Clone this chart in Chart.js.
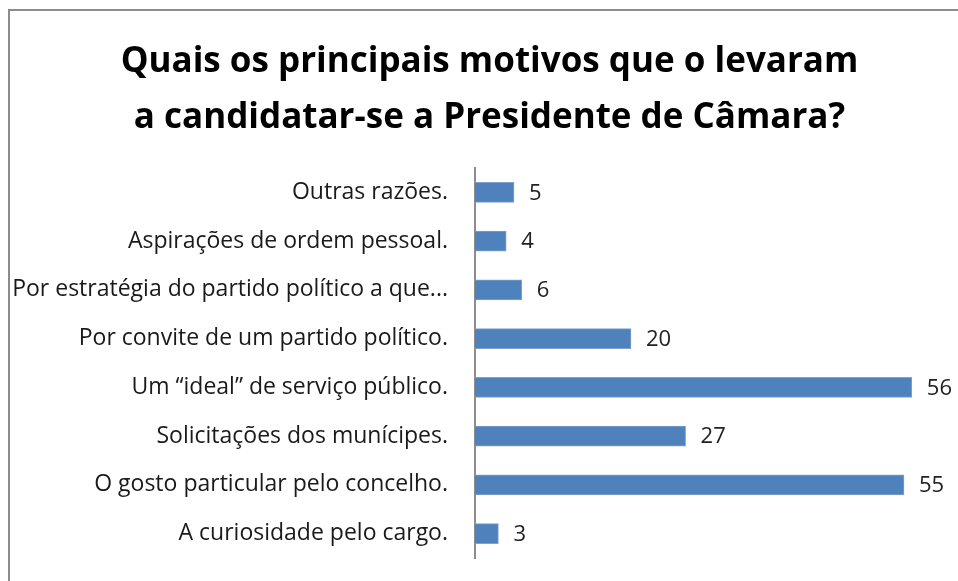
<!DOCTYPE html>
<html>
<head>
<meta charset="utf-8">
<script src="https://cdn.jsdelivr.net/npm/chart.js@4"></script>
<style>
  body { margin: 0; background: #fff; }
  #wrap { position: relative; width: 958px; height: 581px; }
  #frame { position: absolute; left: 8px; top: 9px; width: 960px; height: 600px;
           border-left: 2px solid #8c8c8c; border-top: 2px solid #8c8c8c; pointer-events: none; }
</style>
</head>
<body>
<div id="wrap">
  <canvas id="motivosChart" width="958" height="581"></canvas>
  <div id="frame"></div>
</div>
<script>
// Categorias (de cima para baixo) e respetivos valores
const categorias = [
    "Outras razões.",
    "Aspirações de ordem pessoal.",
    "Por estratégia do partido político a que...",
    "Por convite de um partido político.",
    "Um “ideal” de serviço público.",
    "Solicitações dos munícipes.",
    "O gosto particular pelo concelho.",
    "A curiosidade pelo cargo."
];
const valores = [5, 4, 6, 20, 56, 27, 55, 3];
const titulo = ["Quais os principais motivos que o levaram", "a candidatar-se a Presidente de Câmara?"];

// Plugin simples para escrever o valor à direita de cada barra
const rotulosValores = {
    id: 'rotulosValores',
    afterLayout(chart) {
        // deixa os rótulos compridos passarem para a margem esquerda (sem corte)
        chart.scales.y.left = 0;
    },
    afterDatasetsDraw(chart) {
        const ctx = chart.ctx;
        const meta = chart.getDatasetMeta(0);
        ctx.save();
        ctx.font = '22px "Open Sans"';
        ctx.fillStyle = '#222';
        ctx.textAlign = 'left';
        ctx.textBaseline = 'middle';
        meta.data.forEach(function(bar, i) {
            ctx.fillText(String(valores[i]), bar.x + 15, bar.y + 1);
        });
        ctx.restore();
    }
};

let ctx = document.getElementById('motivosChart').getContext('2d');
let chart = new Chart(ctx, {
    type: 'bar',
    data: {
        labels: categorias,
        datasets: [{
            data: valores,
            backgroundColor: '#4F81BD',
            borderColor: '#7FA2CF',
            borderWidth: 1,
            barThickness: 20
        }]
    },
    options: {
        indexAxis: 'y',
        responsive: false,
        animation: false,
        layout: { padding: { left: 36, right: 15, top: 0, bottom: 23 } },
        plugins: {
            legend: { display: false },
            tooltip: { enabled: false },
            title: {
                display: true,
                text: titulo,
                color: '#000',
                font: { family: 'Open Sans', size: 35, weight: 'bold', lineHeight: 1.6 },
                padding: { top: 34, bottom: 22 }
            }
        },
        scales: {
            x: { display: false, min: 0, max: 60 },
            y: {
                grid: { display: false, drawTicks: false },
                border: { display: true, color: '#8c8c8c', width: 2 },
                ticks: { color: '#1a1a1a', font: { family: 'Open Sans', size: 23 }, padding: 27 },
                afterFit(scale) {
                    scale.width = 439;
                    // o espaçamento dos rótulos não deve encolher a área do gráfico
                    scale.paddingTop = 0;
                    scale.paddingBottom = 0;
                }
            }
        }
    },
    plugins: [rotulosValores]
});
</script>
</body>
</html>
